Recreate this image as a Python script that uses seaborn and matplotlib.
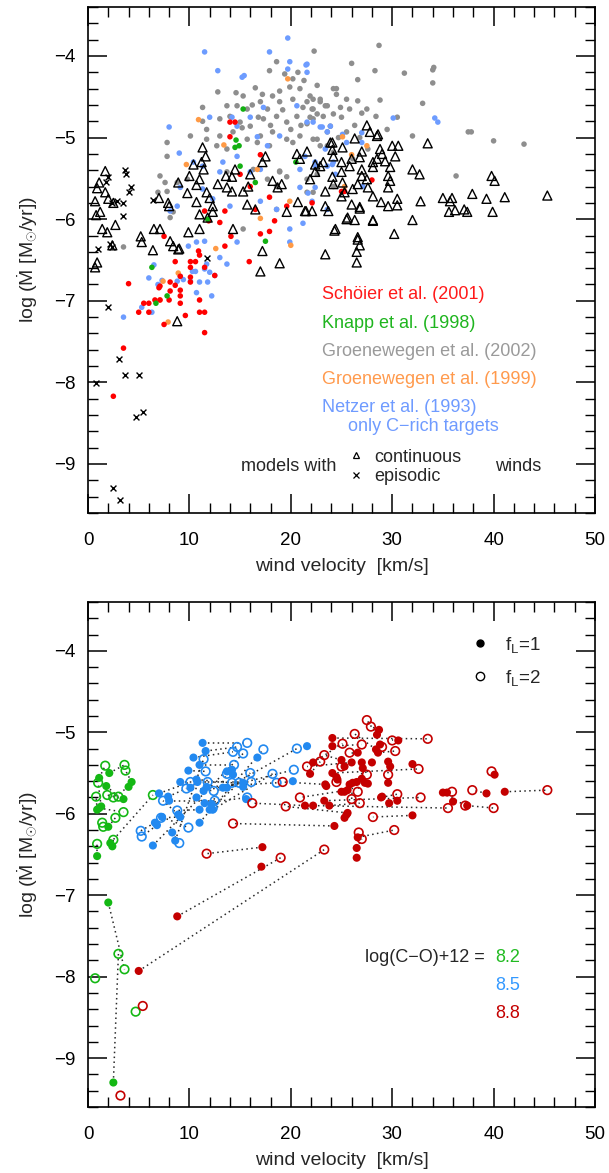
import seaborn as sns
import pandas as pd
import matplotlib.pyplot as plt
from matplotlib.lines import Line2D
from matplotlib.ticker import MultipleLocator

# ---- upper panel: observed C-star samples (wind velocity km/s, log Mdot) ----
groenewegen02 = [
    (28.7, -3.87), (22.3, -3.94), (26.0, -4.09), (28.3, -4.18), (31.2, -4.21), (34.1, -4.14),
    (34.0, -4.17), (34.0, -4.33), (26.6, -4.29), (33.0, -4.58), (28.8, -4.54), (26.6, -4.55),
    (37.5, -4.93), (37.8, -4.93), (40.0, -5.04), (43.0, -5.08), (36.3, -5.47), (32.0, -4.98),
    (30.5, -4.75), (24.5, -4.40), (24.5, -4.47), (24.9, -4.63), (25.8, -4.65), (25.5, -4.53),
    (24.2, -4.71), (28.4, -4.74), (27.5, -4.65), (21.2, -4.63), (22.2, -4.53), (22.9, -4.56),
    (23.4, -4.61), (22.1, -4.65), (21.9, -4.75), (22.6, -4.71), (21.6, -4.83), (22.6, -5.02),
    (23.6, -5.10), (24.2, -5.18), (26.1, -5.26), (27.6, -5.14), (23.9, -4.86), (25.5, -4.93),
    (18.6, -4.07), (17.9, -4.18), (20.2, -4.28), (20.7, -4.20), (22.6, -4.36), (16.5, -4.39),
    (17.2, -4.47), (18.2, -4.49), (12.8, -4.44), (15.3, -4.49), (18.9, -4.43), (19.9, -4.38),
    (20.9, -4.40), (21.9, -4.49), (22.9, -4.53), (24.2, -4.40), (13.7, -4.61), (14.7, -4.61),
    (15.7, -4.65), (17.0, -4.56), (17.7, -4.65), (18.9, -4.56), (20.2, -4.53), (21.6, -4.56),
    (22.2, -4.65), (23.6, -4.61), (11.3, -4.63), (13.0, -4.77), (14.0, -4.74), (15.0, -4.81),
    (16.0, -4.86), (17.3, -4.77), (18.6, -4.74), (19.6, -4.81), (20.6, -4.74), (22.2, -4.77),
    (23.2, -4.74), (11.3, -4.80), (11.7, -4.90), (10.1, -4.98), (11.7, -5.02), (13.0, -4.98),
    (14.3, -4.93), (15.7, -5.02), (17.0, -4.98), (18.2, -4.93), (19.6, -5.02), (20.9, -4.98),
    (22.2, -5.02), (23.6, -4.93), (7.8, -5.06), (12.7, -5.10), (13.7, -5.14), (16.7, -5.06),
    (17.9, -5.10), (20.2, -5.06), (22.9, -5.10), (7.8, -5.23), (7.1, -5.47), (8.8, -5.55),
    (9.8, -5.51), (13.7, -5.42), (16.3, -5.39), (17.7, -5.51), (18.9, -5.42), (21.6, -5.51),
    (22.2, -5.67), (6.9, -5.67), (7.8, -5.66), (18.6, -5.88), (15.3, -6.12), (3.5, -6.34),
    (8.1, -5.98), (8.4, -5.91), (7.6, -5.55), (19.6, -5.48), (18.9, -5.41), (21.6, -5.67),
    (18.6, -5.60), (22.6, -5.45), (24.2, -5.60), (16.2, -4.60), (19.2, -4.66), (21.0, -4.85),
    (15.2, -4.88), (18.0, -4.85), (20.0, -4.90), (14.6, -4.45), (19.4, -4.22), (21.3, -4.30),
    (16.8, -4.75), (25.0, -4.75), (26.3, -4.85), (27.0, -4.70), (29.5, -4.90), (24.7, -5.00),
    (26.8, -5.00),
]
netzer93 = [
    (19.7, -3.78), (11.5, -3.95), (17.9, -3.95), (19.9, -4.07), (19.7, -4.16), (21.6, -4.10),
    (12.8, -4.18), (15.2, -4.26), (15.4, -4.24), (21.6, -4.20), (17.3, -4.63), (12.0, -4.75),
    (16.0, -4.75), (8.0, -4.87), (20.6, -4.61), (21.6, -4.81), (22.2, -4.81), (22.9, -4.87),
    (16.7, -4.99), (18.9, -4.98), (17.7, -5.10), (14.7, -4.86), (14.2, -4.75), (23.6, -4.93),
    (23.9, -4.86), (9.0, -5.19), (13.3, -5.30), (14.7, -5.23), (22.4, -5.30), (23.6, -5.35),
    (24.2, -5.30), (10.4, -5.30), (11.3, -5.35), (13.0, -5.42), (16.0, -5.42), (17.0, -5.39),
    (20.9, -5.39), (22.4, -5.61), (20.9, -5.61), (9.1, -5.61), (11.3, -5.63), (17.0, -5.78),
    (14.0, -5.84), (18.6, -5.88), (8.1, -5.90), (8.8, -5.84), (12.3, -5.75), (19.9, -6.12),
    (19.9, -6.28), (9.9, -6.33), (10.7, -6.28), (11.5, -6.27), (13.0, -6.47), (13.7, -6.55),
    (23.6, -5.88), (6.0, -6.72), (7.3, -6.75), (9.1, -6.70), (10.1, -6.76), (11.8, -6.77),
    (12.5, -6.69), (11.5, -6.61), (10.6, -6.64), (3.5, -7.20), (5.3, -7.08), (6.3, -7.14),
    (6.5, -6.56), (6.9, -6.80), (8.8, -6.76), (9.4, -6.74), (10.3, -6.64), (10.7, -6.90),
    (11.0, -6.77), (11.7, -6.55), (12.0, -6.65), (12.2, -6.94), (14.7, -6.28), (21.5, -4.11),
    (23.1, -4.87), (30.1, -4.76), (34.2, -4.76), (34.5, -4.81), (25.1, -4.96), (25.5, -5.06),
    (27.0, -4.94), (27.0, -5.06), (23.4, -5.14), (21.4, -5.23), (24.1, -5.33), (24.4, -5.45),
    (22.4, -5.35), (21.7, -5.68), (27.1, -5.60), (21.2, -6.05), (22.1, -5.78),
]
groenewegen99 = [
    (19.7, -4.28), (10.9, -4.78), (13.4, -5.09), (9.7, -5.33), (16.7, -5.39), (19.9, -5.78),
    (17.0, -5.99), (12.6, -6.36), (20.0, -6.32), (25.1, -4.99), (27.5, -5.10), (26.0, -5.21),
    (25.3, -5.60), (8.9, -6.66), (7.4, -6.76), (7.9, -7.26), (7.1, -6.99),
]
schoier01 = [
    (14.0, -4.81), (14.5, -4.81), (14.0, -4.99), (17.0, -5.21), (15.0, -5.45), (16.0, -5.60),
    (17.9, -5.73), (13.5, -5.90), (16.5, -5.88), (11.9, -6.02), (13.0, -6.04), (11.5, -5.90),
    (19.6, -5.84), (18.4, -6.02), (22.1, -5.80), (14.1, -6.21), (13.5, -6.33), (17.9, -6.15),
    (17.0, -6.18), (7.5, -6.21), (15.9, -6.52), (8.6, -6.52), (10.1, -6.52), (10.1, -6.59),
    (10.6, -6.52), (11.5, -6.59), (12.5, -6.69), (10.1, -6.71), (10.1, -6.77), (9.1, -6.70),
    (7.1, -6.82), (4.0, -6.79), (8.1, -6.77), (10.9, -6.39), (11.0, -6.44), (8.6, -6.81),
    (9.1, -6.87), (8.1, -6.88), (7.0, -6.84), (9.1, -6.94), (9.1, -7.03), (8.0, -6.99),
    (7.1, -6.99), (6.6, -6.99), (6.0, -7.03), (5.5, -7.03), (5.0, -7.14), (6.0, -7.14),
    (7.5, -7.29), (9.6, -7.18), (11.0, -6.99), (11.0, -7.14), (11.5, -7.14), (11.5, -7.39),
    (3.5, -7.58), (2.5, -8.17), (28.0, -5.52), (25.3, -5.66), (25.0, -5.66),
]
knapp98 = [
    (15.3, -4.65), (14.6, -5.03), (14.9, -5.10), (14.5, -5.12), (20.5, -5.30), (16.5, -5.55),
    (15.0, -5.35), (17.5, -6.27), (11.8, -6.00), (6.3, -6.59), (7.8, -6.94), (6.7, -7.03),
]
models_continuous = [
    (1.7, -5.41), (1.1, -5.55), (0.9, -5.62), (1.7, -5.67), (2.0, -5.75), (0.7, -5.78),
    (2.5, -5.80), (1.2, -5.91), (0.8, -5.95), (2.7, -6.07), (1.4, -6.12), (1.9, -6.16),
    (0.9, -6.53), (5.2, -6.21), (5.3, -6.28), (6.5, -6.12), (7.1, -6.12), (7.0, -5.74),
    (7.9, -5.80), (8.0, -5.84), (6.4, -6.38), (8.4, -6.33), (9.0, -6.36), (9.9, -6.16),
    (8.9, -5.55), (9.8, -5.68), (10.0, -5.47), (10.7, -5.58), (10.4, -5.33), (11.2, -5.30),
    (11.4, -5.39), (11.0, -5.51), (11.3, -5.12), (11.6, -5.23), (10.7, -5.79), (12.0, -5.74),
    (11.7, -5.67), (12.3, -5.84), (11.0, -5.94), (11.8, -5.98), (12.3, -5.91), (11.0, -6.12),
    (12.8, -5.57), (13.6, -5.47), (14.2, -5.48), (14.5, -5.39), (13.7, -5.61), (14.2, -5.66),
    (15.3, -5.66), (15.8, -5.60), (16.0, -5.45), (15.7, -5.82), (16.5, -5.88), (14.3, -6.12),
    (17.2, -6.39), (17.5, -5.23), (17.2, -5.30), (18.2, -5.53), (19.1, -5.57), (18.7, -5.61),
    (19.6, -5.91), (20.7, -5.79), (21.5, -5.90), (22.1, -5.90), (20.6, -5.20), (21.6, -5.17),
    (21.9, -5.51), (22.4, -5.42), (22.9, -5.35), (23.4, -5.66), (23.4, -5.84), (23.9, -5.06),
    (24.2, -5.23), (24.4, -6.12), (23.4, -6.43), (27.5, -4.85), (27.8, -4.93), (28.6, -4.96),
    (28.5, -4.98), (26.3, -5.01), (25.1, -5.12), (24.1, -5.06), (24.1, -5.15), (30.0, -5.10),
    (30.6, -5.10), (33.5, -5.07), (28.8, -5.14), (29.0, -5.20), (28.5, -5.26), (29.3, -5.29),
    (29.8, -5.36), (28.1, -5.30), (28.1, -5.36), (30.3, -5.23), (27.0, -5.17), (26.8, -5.24),
    (26.0, -5.26), (25.8, -5.35), (25.0, -5.30), (25.0, -5.42), (25.1, -5.55), (24.1, -5.48),
    (24.2, -5.57), (23.2, -5.30), (22.4, -5.33), (20.9, -5.26), (27.0, -5.39), (27.0, -5.47),
    (27.5, -5.51), (27.6, -5.61), (26.6, -5.57), (26.1, -5.63), (25.3, -5.67), (29.6, -5.47),
    (29.6, -5.61), (29.8, -5.53), (32.0, -5.39), (32.7, -5.45), (25.0, -5.72), (26.0, -5.82),
    (26.8, -5.87), (23.7, -5.90), (21.4, -5.90), (25.6, -5.98), (26.3, -6.01), (28.1, -6.01),
    (32.0, -6.01), (28.9, -5.79), (29.6, -5.84), (30.5, -5.75), (30.5, -5.83), (32.8, -5.78),
    (24.3, -6.14), (26.6, -6.22), (26.8, -6.32), (26.5, -6.40), (30.2, -6.18), (35.0, -5.74),
    (35.9, -5.74), (35.7, -5.78), (36.2, -5.89), (35.6, -5.91), (37.9, -5.69), (37.1, -5.88),
    (37.4, -5.91), (39.3, -5.75), (39.8, -5.47), (40.1, -5.53), (41.1, -5.73), (39.9, -5.91),
    (45.3, -5.71), (17.0, -6.64), (18.9, -6.54), (8.1, -6.27), (8.8, -7.25), (2.4, -6.32),
    (26.5, -6.53), (26.6, -6.25), (28.1, -6.02), (25.5, -6.00), (28.1, -5.72), (26.8, -5.85),
    (8.9, -6.37), (0.7, -6.59),
]
models_episodic = [
    (3.6, -5.40), (3.7, -5.45), (2.0, -5.48), (1.8, -5.55), (4.2, -5.60), (4.0, -5.67),
    (2.9, -5.78), (3.5, -5.80), (2.4, -5.80), (3.5, -5.96), (6.4, -5.76), (1.0, -6.36),
    (2.4, -6.34), (2.2, -6.31), (11.7, -6.47), (2.0, -7.08), (3.1, -7.71), (3.6, -7.91),
    (5.0, -7.91), (0.8, -8.01), (4.7, -8.42), (5.4, -8.36), (2.5, -9.29), (3.2, -9.44),
]

# ---- lower panel: models per C/O excess, f_L=1 and f_L=2 ----
# the first *_linked entries of fl1 and fl2 belong to the same model (joined by dots)
green_fl1 = [
    (2.1, -5.50), (1.1, -5.56), (1.8, -5.66), (4.3, -5.61), (4.0, -5.67), (3.5, -5.82),
    (0.9, -5.95), (1.1, -5.93), (2.2, -6.36), (1.3, -5.91), (2.0, -6.16), (2.4, -6.40),
    (0.9, -6.52), (2.0, -7.09), (2.5, -9.30),
]
green_fl2 = [
    (3.6, -5.40), (1.7, -5.41), (3.0, -5.79), (3.7, -5.47), (2.5, -5.80), (1.9, -5.77),
    (0.8, -5.79), (3.5, -5.98), (6.4, -5.77), (1.0, -5.62), (2.7, -6.05), (2.5, -6.32),
    (0.9, -6.37), (3.6, -7.91), (3.0, -7.72), (1.4, -6.11), (1.5, -6.16), (0.7, -8.02),
    (4.7, -8.43),
]
green_linked = 15
blue_fl1 = [
    (11.3, -5.13), (11.6, -5.23), (10.4, -5.31), (11.0, -5.40), (9.9, -5.47), (9.1, -5.61),
    (10.7, -5.58), (10.8, -5.61), (10.1, -5.68), (7.0, -5.75), (7.9, -5.79), (8.0, -5.84),
    (11.4, -5.72), (11.7, -5.67), (10.7, -5.80), (11.5, -5.87), (12.2, -5.88), (11.0, -5.95),
    (12.0, -5.95), (12.3, -5.95), (7.3, -6.04), (8.9, -6.01), (9.1, -6.04), (11.0, -6.11),
    (6.6, -6.11), (6.8, -6.14), (8.3, -6.23), (8.6, -6.33), (6.4, -6.39), (13.3, -5.68),
    (13.7, -5.68), (15.3, -5.67), (15.3, -5.62), (13.7, -5.48), (14.2, -5.46), (14.3, -5.52),
    (16.7, -5.31), (20.2, -5.60), (21.6, -5.17), (15.6, -5.82),
]
blue_fl2 = [
    (15.7, -5.13), (14.7, -5.18), (14.3, -5.24), (14.4, -5.40), (11.6, -5.48), (11.8, -5.61),
    (14.2, -5.62), (16.1, -5.61), (12.4, -5.72), (10.1, -5.61), (9.7, -5.69), (12.5, -5.84),
    (14.9, -5.62), (18.6, -5.62), (12.3, -5.93), (15.7, -5.80), (13.7, -5.51), (8.8, -5.96),
    (16.0, -5.50), (18.2, -5.51), (9.9, -6.17), (7.4, -5.84), (7.2, -6.05), (17.3, -5.21),
    (5.2, -6.21), (5.3, -6.28), (9.0, -6.36), (11.4, -5.33), (15.3, -5.26), (20.3, -5.46),
    (20.6, -5.20),
]
blue_linked = 31
red_fl1 = [
    (24.1, -5.07), (24.1, -5.17), (28.7, -4.97), (28.5, -5.03), (30.6, -5.10), (28.8, -5.15),
    (26.6, -5.25), (28.6, -5.25), (28.4, -5.21), (22.2, -5.37), (21.9, -5.51), (24.1, -5.50),
    (25.0, -5.34), (25.3, -5.42), (27.0, -5.37), (29.6, -5.36), (24.6, -5.58), (23.4, -5.64),
    (21.4, -5.90), (22.2, -5.90), (23.3, -5.84), (23.8, -5.90), (25.6, -5.99), (28.9, -5.80),
    (32.0, -6.02), (24.3, -6.15), (26.6, -6.29), (26.5, -6.42), (8.8, -7.26), (5.0, -7.93),
    (17.2, -6.41), (41.1, -5.73), (39.3, -5.75), (40.1, -5.52), (37.4, -5.90), (36.0, -5.85),
    (35.0, -5.74), (25.6, -5.71), (26.0, -5.37), (27.1, -5.44), (26.1, -5.62),
    (28.0, -5.37), (29.8, -5.42), (32.0, -5.39), (27.0, -5.57), (26.5, -5.61), (27.3, -5.62),
    (27.6, -5.63), (25.8, -5.64), (29.6, -5.62), (25.0, -5.73), (25.3, -5.73), (29.7, -5.87),
    (30.5, -5.84), (25.5, -6.01), (25.3, -6.05), (26.5, -6.54), (35.4, -5.74), (23.5, -5.66),
    (24.5, -5.55), (17.1, -6.65), (29.0, -5.79),
]
red_fl2 = [
    (33.5, -5.08), (27.0, -5.15), (27.9, -4.93), (27.5, -4.85), (30.0, -5.10), (29.0, -5.18),
    (25.8, -5.25), (30.3, -5.23), (26.3, -5.02), (25.1, -5.14), (22.9, -5.36), (32.6, -5.45),
    (23.3, -5.28), (25.0, -5.42), (27.5, -5.52), (29.6, -5.52), (24.5, -5.61), (19.2, -5.61),
    (16.2, -5.87), (35.5, -5.93), (32.8, -5.80), (26.8, -5.87), (19.5, -5.91), (30.5, -5.76),
    (28.1, -6.04), (14.3, -6.12), (30.2, -6.20), (27.0, -6.31), (19.0, -6.54), (23.3, -6.44),
    (11.7, -6.49), (45.3, -5.71), (37.9, -5.71), (39.8, -5.48), (40.0, -5.93), (35.9, -5.73),
    (37.2, -5.90), (20.9, -5.80), (21.6, -5.42), (26.6, -5.73), (26.0, -5.82),
    (26.7, -6.23), (5.4, -8.36), (3.2, -9.46),
]
red_linked = 41

top_labels = [
    ("Schöier et al. (2001)", "#ff1a1a"),
    ("Knapp et al. (1998)", "#1fb51f"),
    ("Groenewegen et al. (2002)", "#9a9a9a"),
    ("Groenewegen et al. (1999)", "#ff9a4d"),
    ("Netzer et al. (1993)", "#6f9bff"),
]
co_labels = [("8.2", "#22bb22"), ("8.5", "#3399ff"), ("8.8", "#c40000")]


def frame(points):
    return pd.DataFrame(points, columns=["v", "mdot"])


def style_axes(ax):
    ax.set_xlim(0, 50)
    ax.set_ylim(-9.6, -3.4)
    ax.xaxis.set_major_locator(MultipleLocator(10))
    ax.xaxis.set_minor_locator(MultipleLocator(2))
    ax.yaxis.set_major_locator(MultipleLocator(1))
    ax.yaxis.set_minor_locator(MultipleLocator(0.2))
    ax.tick_params(which="both", direction="in", top=True, right=True,
                   colors="black", labelsize=13.5)
    ax.tick_params(which="major", length=14, width=1.1)
    ax.tick_params(which="minor", length=7, width=1.0)
    ax.tick_params(axis="x", pad=14)
    ax.tick_params(axis="y", pad=9)
    for s in ax.spines.values():
        s.set_linewidth(1.2)
        s.set_color("black")
    ax.set_xlabel("wind velocity  [km/s]", fontsize=14, labelpad=6)
    ax.set_ylabel(r"log ($\dot{\mathrm{M}}$ [M$_{\odot}$/yr])", fontsize=14, labelpad=10)


def dots(ax, pts, color, s=16):
    sns.scatterplot(data=frame(pts), x="v", y="mdot", ax=ax, color=color,
                    s=s, linewidth=0, edgecolor="none", legend=False)


def plot_panels():
    sns.set_theme(style="ticks")
    plt.rcParams["font.family"] = ["Liberation Sans", "DejaVu Sans"]
    plt.rcParams["mathtext.fontset"] = "custom"
    plt.rcParams["mathtext.rm"] = "Liberation Sans"
    plt.rcParams["mathtext.it"] = "Liberation Sans:italic"

    fig = plt.figure(figsize=(6.09, 11.73), dpi=100)
    ax1 = fig.add_axes([0.1445, 0.5627, 0.8325, 0.4313])
    ax2 = fig.add_axes([0.1445, 0.0563, 0.8325, 0.4305])

    # upper panel
    dots(ax1, groenewegen02, "#8e8e8e")
    dots(ax1, netzer93, "#6d9cff")
    dots(ax1, groenewegen99, "#ff9a45")
    dots(ax1, schoier01, "#ff0000")
    dots(ax1, knapp98, "#12b012")
    sns.scatterplot(data=frame(models_continuous), x="v", y="mdot", ax=ax1,
                    marker="^", s=42, color="black", facecolor="none",
                    edgecolor="black", linewidth=1.0, legend=False)
    sns.scatterplot(data=frame(models_episodic), x="v", y="mdot", ax=ax1,
                    marker="x", s=18, color="black", linewidth=1.0, legend=False)

    for i, (txt, col) in enumerate(top_labels):
        ax1.text(0.4615, 0.431 - i * 0.0557, txt, color=col, fontsize=13,
                 transform=ax1.transAxes, va="center", ha="left")
    ax1.text(0.513, 0.170, "only C\u2212rich targets", color=top_labels[4][1],
             fontsize=13, transform=ax1.transAxes, va="center", ha="left")
    ax1.text(0.302, 0.091, "models with", fontsize=13, transform=ax1.transAxes,
             va="center", ha="left")
    ax1.text(0.803, 0.091, "winds", fontsize=13, transform=ax1.transAxes,
             va="center", ha="left")
    handles = [
        Line2D([], [], ls="", marker="^", ms=5, mfc="none", mec="black", mew=0.9),
        Line2D([], [], ls="", marker="x", ms=4.5, mec="black", mew=0.9),
    ]
    ax1.legend(handles, ["continuous", "episodic"], loc="center left",
               bbox_to_anchor=(0.515, 0.091), frameon=False, fontsize=13,
               handlelength=0.8, handletextpad=0.6, labelspacing=0.15,
               borderpad=0, borderaxespad=0)
    style_axes(ax1)

    # lower panel
    groups = [
        (green_fl1, green_fl2, green_linked, "#14b814"),
        (blue_fl1, blue_fl2, blue_linked, "#2289f0"),
        (red_fl1, red_fl2, red_linked, "#c40000"),
    ]
    for fl1, fl2, n, col in groups:
        for (x1, y1), (x2, y2) in zip(fl1[:n], fl2[:n]):
            ax2.plot([x1, x2], [y1, y2], ls=(0, (1, 2.2)), lw=1.1,
                     color="#2a2a2a", zorder=1)
    for fl1, fl2, n, col in groups:
        sns.scatterplot(data=frame(fl1), x="v", y="mdot", ax=ax2, color=col,
                        s=34, linewidth=0, edgecolor="none", legend=False, zorder=3)
        sns.scatterplot(data=frame(fl2), x="v", y="mdot", ax=ax2, color=col,
                        s=38, facecolor="none", edgecolor=col, linewidth=1.2,
                        legend=False, zorder=3)

    fl_handles = [
        Line2D([], [], ls="", marker="o", ms=5, mfc="black", mec="black"),
        Line2D([], [], ls="", marker="o", ms=6, mfc="none", mec="black", mew=1.0),
    ]
    ax2.legend(fl_handles, [r"f$_{\mathrm{L}}$=1", r"f$_{\mathrm{L}}$=2"],
               loc="upper left", bbox_to_anchor=(0.755, 0.935), frameon=False,
               fontsize=13.5, handlelength=1.0, handletextpad=0.8,
               labelspacing=0.7, borderpad=0, borderaxespad=0)
    ax2.text(0.783, 0.295, "log(C\u2212O)+12 =", fontsize=13,
             transform=ax2.transAxes, va="center", ha="right")
    for i, (txt, col) in enumerate(co_labels):
        ax2.text(0.803, 0.295 - i * 0.055, txt, color=col, fontsize=13,
                 transform=ax2.transAxes, va="center", ha="left")
    style_axes(ax2)

    fig.savefig("out.png", dpi=100)


if __name__ == "__main__":
    plot_panels()
